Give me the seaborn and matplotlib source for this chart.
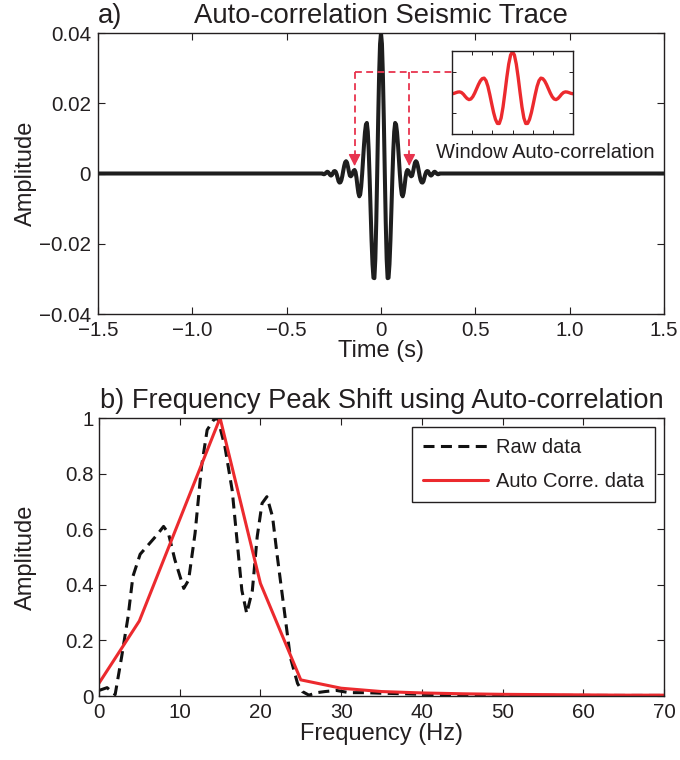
import numpy as np
import pandas as pd
import matplotlib
matplotlib.use("Agg")
import matplotlib.pyplot as plt
import seaborn as sns

# ------------------------------------------------------------------ data
# a) auto-correlation seismic trace (s, amplitude), sampled every 5 ms near zero lag
trace_lag = [-1.5] + list(np.round(np.arange(-62, 63) * 0.005, 3)) + [1.5]
trace_amp = [0.0,
    0.0000, -0.0002, -0.0002, 0.0000, 0.0003, 0.0005, 0.0004, 0.0000, -0.0004, -0.0006,
    -0.0004, 0.0001, 0.0006, 0.0007, 0.0005, -0.0002, -0.0012, -0.0022, -0.0026, -0.0025,
    -0.0019, -0.0007, 0.0008, 0.0022, 0.0032, 0.0035, 0.0031, 0.0019, 0.0005, -0.0006,
    -0.0008, -0.0005, 0.0002, 0.0008, 0.0010, 0.0004, -0.0012, -0.0035, -0.0055, -0.0065,
    -0.0059, -0.0037, -0.0002, 0.0040, 0.0082, 0.0117, 0.0139, 0.0144, 0.0119, 0.0063,
    -0.0017, -0.0106, -0.0191, -0.0258, -0.0297, -0.0298, -0.0243, -0.0136, 0.0004, 0.0152,
    0.0281, 0.0369,
    0.0400,
    0.0369, 0.0281, 0.0152, 0.0004, -0.0136, -0.0243, -0.0298, -0.0297, -0.0258, -0.0191,
    -0.0106, -0.0017, 0.0063, 0.0119, 0.0144, 0.0139, 0.0117, 0.0082, 0.0040, -0.0002,
    -0.0037, -0.0059, -0.0065, -0.0055, -0.0035, -0.0012, 0.0004, 0.0010, 0.0008, 0.0002,
    -0.0005, -0.0008, -0.0006, 0.0005, 0.0019, 0.0031, 0.0035, 0.0032, 0.0022, 0.0008,
    -0.0007, -0.0019, -0.0025, -0.0026, -0.0022, -0.0012, -0.0002, 0.0005, 0.0007, 0.0006,
    0.0001, -0.0004, -0.0006, -0.0004, 0.0000, 0.0004, 0.0005, 0.0003, 0.0000, -0.0002,
    -0.0002, 0.0000,
    0.0]
window_half = 0.16            # half-width (s) of the auto-correlation window in the inset
window_marks = [-0.14, 0.15]  # lags pointed at by the dashed arrows

# b) amplitude spectra
freq_raw = [0, 1, 2, 2.8, 3.6, 4.2, 5.1, 6.3, 7.2, 8.0, 8.6, 9.4, 10.5, 11.1, 11.9,
            12.7, 13.4, 14.2, 14.7, 15.6, 16.5, 17.1, 17.7, 18.3, 19.0, 19.6, 20.2,
            20.8, 21.5, 22.1, 22.9, 23.7, 24.6, 25.2, 26, 27, 28, 29.4, 31, 33, 35,
            38, 40, 45, 50, 55, 60, 65, 70]
amp_raw = [0.02, 0.03, 0.005, 0.14, 0.285, 0.43, 0.51, 0.55, 0.58, 0.61, 0.585, 0.49,
           0.387, 0.417, 0.585, 0.825, 0.957, 0.993, 1.0, 0.897, 0.74, 0.56, 0.38,
           0.297, 0.38, 0.573, 0.693, 0.717, 0.645, 0.50, 0.32, 0.14, 0.045, 0.016,
           0.003, 0.012, 0.016, 0.02, 0.012, 0.012, 0.01, 0.008, 0.006, 0.004, 0.003,
           0.002, 0.002, 0.002, 0.002]
freq_auto = [0, 5, 10, 15, 20, 25, 30, 35, 40, 45, 50, 55, 60, 65, 70]
amp_auto = [0.046, 0.27, 0.635, 1.0, 0.405, 0.058, 0.028, 0.016, 0.011, 0.008,
            0.006, 0.005, 0.004, 0.003, 0.003]

series_labels = ["Raw data", "Auto Corre. data"]

top_xticks = [-1.5, -1.0, -0.5, 0, 0.5, 1.0, 1.5]
top_xticklabels = ["\u22121.5", "\u22121.0", "\u22120.5", "0", "0.5", "1.0", "1.5"]
top_yticks = [-0.04, -0.02, 0, 0.02, 0.04]
top_yticklabels = ["\u22120.04", "\u22120.02", "0", "0.02", "0.04"]
bot_xticks = [0, 10, 20, 30, 40, 50, 60, 70]
bot_xticklabels = ["0", "10", "20", "30", "40", "50", "60", "70"]
bot_yticks = [0, 0.2, 0.4, 0.6, 0.8, 1.0]
bot_yticklabels = ["0", "0.2", "0.4", "0.6", "0.8", "1"]

# ------------------------------------------------------------------ style
sns.set_theme(style="ticks")
TXT = "#231f20"
plt.rcParams.update({
    "font.family": ["Liberation Sans", "DejaVu Sans"],
    "xtick.direction": "in", "ytick.direction": "in",
    "xtick.top": True, "ytick.right": True,
    "xtick.major.size": 5, "ytick.major.size": 5,
    "xtick.major.width": 0.8, "ytick.major.width": 0.8,
    "axes.linewidth": 1.0, "axes.edgecolor": "#231f20",
    "text.color": TXT, "axes.labelcolor": TXT,
    "xtick.color": TXT, "ytick.color": TXT,
    "xtick.labelsize": 14.8, "ytick.labelsize": 14.8,
})
RED = "#ec2a2e"
ARROW = "#e8344e"

W, H = 680, 760
fig = plt.figure(figsize=(W / 100, H / 100), dpi=100)
L, R = 98 / W, 664 / W
ax1 = fig.add_axes([L, 1 - 314 / H, R - L, (314 - 33) / H])
ax2 = fig.add_axes([L + 1 / W, 1 - 696 / H, R - L - 1 / W, (696 - 418) / H])

# ------------------------------------------------------------------ a)
df_tr = pd.DataFrame({"lag": trace_lag, "amp": trace_amp})
sns.lineplot(data=df_tr, x="lag", y="amp", ax=ax1, color="#1e1e1e", lw=2.9,
             estimator=None, sort=False)
ax1.set_xlim(-1.5, 1.5)
ax1.set_ylim(-0.04, 0.04)
ax1.set_xticks(top_xticks)
ax1.set_xticklabels(top_xticklabels)
ax1.set_yticks(top_yticks)
ax1.set_yticklabels(top_yticklabels)
ax1.tick_params(axis="x", pad=5)
ax1.tick_params(axis="y", pad=5)
ax1.set_xlabel("Time (s)", fontsize=17, labelpad=0)
ax1.set_ylabel("Amplitude", fontsize=17)
ax1.yaxis.set_label_coords(-0.108, 0.5)
ax1.set_title("Auto-correlation Seismic Trace", fontsize=19.8, pad=7)
ax1.set_title("a)", loc="left", fontsize=19.8, pad=7)

# dashed window arrows
y_h, y_tip, head = 0.0288, 0.0021, 0.0029
for xm in window_marks:
    ax1.plot([xm, xm], [y_h, y_tip + head], color=ARROW, lw=1.3,
             dashes=(3.8, 2.4), zorder=3)
    ax1.annotate("", xy=(xm, y_tip), xytext=(xm, y_tip + head + 0.0004),
                 arrowprops=dict(arrowstyle="-|>,head_length=0.55,head_width=0.28",
                                 color=ARROW, lw=1.0, mutation_scale=13,
                                 shrinkA=0, shrinkB=0), zorder=4)
ax1.plot([window_marks[0], 0.45], [y_h, y_h], color=ARROW, lw=1.3,
         dashes=(3.8, 2.4), zorder=3)

# inset: window auto-correlation
axin = fig.add_axes([452 / W, 1 - 134 / H, 121 / W, 83 / H])
axin.set_facecolor("white")
mask = np.abs(np.array(trace_lag)) <= window_half + 1e-9
win_lag = np.array(trace_lag)[mask]
win_amp = np.array(trace_amp)[mask]
win_amp = win_amp / np.max(np.abs(win_amp))
sns.lineplot(x=win_lag, y=win_amp, ax=axin, color=RED, lw=2.4,
             estimator=None, sort=False)
axin.set_xlim(-window_half, window_half)
axin.set_ylim(-1.0, 1.02)
axin.set_xticks(np.linspace(-window_half, window_half, 7)[1:-1])
axin.set_yticks([-0.5, 0, 0.5])
axin.tick_params(labelbottom=False, labelleft=False, length=3, width=0.7)
axin.set_xlabel("")
axin.set_ylabel("")
fig.text(545 / W, 1 - 152 / H, "Window Auto-correlation", fontsize=14.5,
         ha="center", va="center", color=TXT)

# ------------------------------------------------------------------ b)
df_raw = pd.DataFrame({"freq": freq_raw, "amp": amp_raw})
df_auto = pd.DataFrame({"freq": freq_auto, "amp": amp_auto})
sns.lineplot(data=df_raw, x="freq", y="amp", ax=ax2, color="#111111", lw=2.2,
             estimator=None, label=series_labels[0])
ax2.lines[-1].set_dashes((3.6, 2.1))
sns.lineplot(data=df_auto, x="freq", y="amp", ax=ax2, color=RED, lw=2.2,
             estimator=None, label=series_labels[1])
ax2.set_xlim(0, 70)
ax2.set_ylim(0, 1)
ax2.set_xticks(bot_xticks)
ax2.set_xticklabels(bot_xticklabels)
ax2.set_yticks(bot_yticks)
ax2.set_yticklabels(bot_yticklabels)
ax2.tick_params(axis="x", pad=5)
ax2.tick_params(axis="y", pad=3.5)
ax2.set_xlabel("Frequency (Hz)", fontsize=17, labelpad=1)
ax2.set_ylabel("Amplitude", fontsize=17)
ax2.yaxis.set_label_coords(-0.11, 0.5)
ax2.set_title("b) Frequency Peak Shift using Auto-correlation", fontsize=19.6, pad=7.5)

leg = ax2.legend(loc="upper right", fontsize=14.5, frameon=True, fancybox=False,
                 edgecolor="#231f20", framealpha=1, handlelength=3.2,
                 handletextpad=0.4, labelspacing=0.75, borderpad=0.55,
                 borderaxespad=0.45)
leg.get_frame().set_linewidth(1.0)

fig.savefig("out.png", dpi=100)
